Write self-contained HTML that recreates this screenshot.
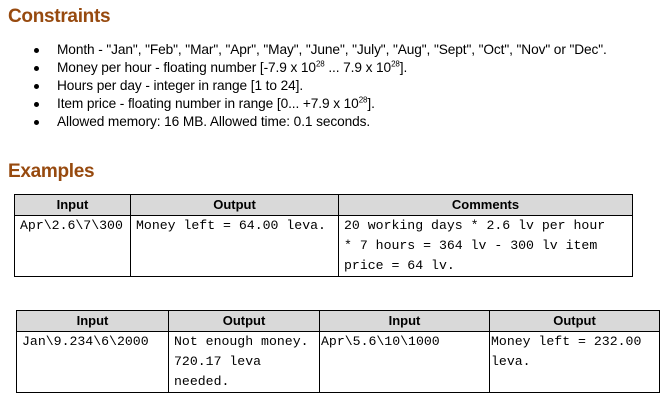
<!DOCTYPE html>
<html><head><style>
body{margin:0;width:669px;height:414px;background:#fff;position:relative;font-family:"Liberation Sans",sans-serif;overflow:hidden}
.h{position:absolute;left:8px;font-weight:bold;color:#974A0F;font-size:19px;font-family:"Liberation Sans",sans-serif;letter-spacing:-0.3px}
.b{position:absolute;left:57px;font-size:13.7px;color:#000;line-height:18px;white-space:nowrap;letter-spacing:-0.1px}
.d{position:absolute;left:34px;width:5px;height:5px;border-radius:50%;background:#000}
sup{font-size:8px;line-height:0}
table{position:absolute;border-collapse:collapse;font-family:"Liberation Mono",monospace;font-size:13.2px}
td,th{border:1px solid #000;padding:0 0 0 5px;vertical-align:top;line-height:20px}
th{background:#d9d9d9;font-family:"Liberation Sans",sans-serif;font-size:13px;font-weight:bold;text-align:center;height:20px;line-height:20px;padding:0}
td{height:56px;padding-top:0}
</style></head><body>
<div class="h" style="top:6px">Constraints</div>
<div class="d" style="top:48px"></div><div class="b" style="top:41px">Month - "Jan", "Feb", "Mar", "Apr", "May", "June", "July", "Aug", "Sept", "Oct", "Nov" or "Dec".</div>
<div class="d" style="top:66px"></div><div class="b" style="top:59px">Money per hour - floating number [-7.9 x 10<sup>28</sup> ... 7.9 x 10<sup>28</sup>].</div>
<div class="d" style="top:84px"></div><div class="b" style="top:77px">Hours per day - integer in range [1 to 24].</div>
<div class="d" style="top:102px"></div><div class="b" style="top:95px">Item price - floating number in range [0... +7.9 x 10<sup>28</sup>].</div>
<div class="d" style="top:120px"></div><div class="b" style="top:113px">Allowed memory: 16 MB. Allowed time: 0.1 seconds.</div>
<div class="h" style="top:161px">Examples</div>
<table style="left:14px;top:194px;width:619px">
<tr><th style="width:115px">Input</th><th style="width:207px">Output</th><th>Comments</th></tr>
<tr><td>Apr\2.6\7\300</td><td>Money left = 64.00 leva.</td><td>20 working days * 2.6 lv per hour<br>* 7 hours = 364 lv - 300 lv item<br>price = 64 lv.</td></tr>
</table>
<table style="left:16px;top:310px;width:644px">
<tr><th style="width:151px">Input</th><th style="width:150px">Output</th><th style="width:169px">Input</th><th>Output</th></tr>
<tr><td>Jan\9.234\6\2000</td><td>Not enough money.<br>720.17 leva<br>needed.</td><td style="padding-left:1px">Apr\5.6\10\1000</td><td style="padding-left:1px">Money left = 232.00<br>leva.</td></tr>
</table>
</body></html>
